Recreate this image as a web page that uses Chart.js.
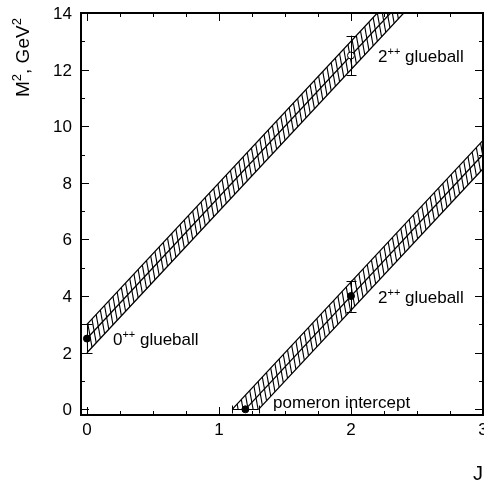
<!DOCTYPE html>
<html><head><meta charset="utf-8">
<script src="https://cdn.jsdelivr.net/npm/chart.js@4.4.0/dist/chart.umd.min.js"></script>
<style>html,body{margin:0;padding:0;background:#fff;overflow:hidden;}#c{display:block;width:484px;height:485px;}</style>
</head><body><canvas id="c" width="484" height="485"></canvas>
<script>
// ---- data ----
const xTickValues = [0, 0.25, 0.5, 0.75, 1, 1.25, 1.5, 1.75, 2, 2.25, 2.5, 2.75, 3];
const xMajorTicks = [0, 1, 2, 3];
const yTickValues = [0, 0.5, 1, 1.5, 2, 2.5, 3, 3.5, 4, 4.5, 5, 5.5, 6, 6.5, 7, 7.5, 8, 8.5, 9, 9.5, 10, 10.5, 11, 11.5, 12, 12.5, 13, 13.5, 14];
const yMajorTicks = [0, 2, 4, 6, 8, 10, 12, 14];

// glueball trajectory band (polygon) and central line
const glueballBandJ  = [0.0, 2.6, 2.4, 0.0];
const glueballBandM2 = [2.0, 15.0, 15.0, 3.0];
const glueballLineJ  = [0.0, 2.5];
const glueballLineM2 = [2.5, 15.0];

// pomeron trajectory band (polygon) and central line
const pomeronBandJ  = [1.1, 3.1, 3.1, 1.3];
const pomeronBandM2 = [0.0, 10.0, 9.0, 0.0];
const pomeronLineJ  = [1.2, 3.1];
const pomeronLineM2 = [0.0, 9.5];

// measured points with error bars
const pointJ     = [0.0, 2.0, 2.0, 1.2];
const pointM2    = [2.5, 4.0, 12.5, 0.0];
const pointM2Lo  = [2.0, 3.45, 11.8, null];
const pointM2Hi  = [3.0, 4.55, 13.2, null];
const pointJLo   = [null, null, null, 1.1];
const pointJHi   = [null, null, null, 1.3];
const pointFilled = [true, true, false, true];

// text labels
const labelTexts = ['0', '2', '2', 'pomeron intercept'];
const labelJ  = [0.197, 2.205, 2.205, 1.41];
const labelM2 = [2.26, 3.76, 12.27, 0.03];

// ---- helpers ----
const FONT = '"Liberation Sans", Arial, Helvetica, sans-serif';
const zip = (xs, ys) => xs.map((x, i) => ({x, y: ys[i]}));

function hatchPattern() {
  const W = 5, H = 28;
  const c = document.createElement('canvas');
  c.width = W; c.height = H;
  const g = c.getContext('2d');
  g.fillStyle = '#fff'; g.fillRect(0, 0, W, H);
  g.strokeStyle = '#000'; g.lineWidth = 1.1;
  for (const o of [-W, 0, W]) {
    g.beginPath(); g.moveTo(o, 0); g.lineTo(o + W, H); g.stroke();
  }
  return g.createPattern(c, 'repeat');
}
const hatch = hatchPattern();

function drawRich(ctx, x, y, parts) {
  let cx = x;
  for (const [t, size, dy] of parts) {
    ctx.font = size + 'px ' + FONT;
    ctx.fillText(t, cx, y - dy);
    cx += ctx.measureText(t).width;
  }
}

const decorPlugin = {
  id: 'decor',
  afterDatasetsDraw(chart) {
    const ctx = chart.ctx, xs = chart.scales.x, ys = chart.scales.y;
    ctx.save();
    ctx.strokeStyle = '#000'; ctx.lineWidth = 1;
    pointJ.forEach((j, i) => {
      const px = xs.getPixelForValue(j), py = ys.getPixelForValue(pointM2[i]);
      if (pointM2Lo[i] !== null) {
        const y1 = ys.getPixelForValue(pointM2Lo[i]), y2 = ys.getPixelForValue(pointM2Hi[i]);
        const cx = Math.round(px) + 0.5;
        ctx.beginPath();
        ctx.moveTo(cx, y1); ctx.lineTo(cx, y2);
        ctx.moveTo(cx - 5, Math.round(y1) + 0.5); ctx.lineTo(cx + 5, Math.round(y1) + 0.5);
        ctx.moveTo(cx - 5, Math.round(y2) + 0.5); ctx.lineTo(cx + 5, Math.round(y2) + 0.5);
        ctx.stroke();
      }
      if (pointJLo[i] !== null) {
        const x1 = xs.getPixelForValue(pointJLo[i]), x2 = xs.getPixelForValue(pointJHi[i]);
        const cy = Math.round(py) + 0.5;
        ctx.beginPath();
        ctx.moveTo(x1, cy); ctx.lineTo(x2, cy);
        ctx.moveTo(Math.round(x1) + 0.5, cy - 4); ctx.lineTo(Math.round(x1) + 0.5, cy + 4);
        ctx.moveTo(Math.round(x2) + 0.5, cy - 4); ctx.lineTo(Math.round(x2) + 0.5, cy + 4);
        ctx.stroke();
      }
    });
    ctx.restore();
  },
  afterDraw(chart) {
    const ctx = chart.ctx, a = chart.chartArea, xs = chart.scales.x, ys = chart.scales.y;
    ctx.save();
    ctx.strokeStyle = '#000'; ctx.fillStyle = '#000';
    ctx.lineWidth = 2;
    ctx.strokeRect(a.left, a.top, a.right - a.left, a.bottom - a.top);
    ctx.lineWidth = 1;
    ctx.beginPath();
    xs.ticks.forEach(t => {
      const L = xMajorTicks.includes(t.value) ? 8 : 4;
      const p = Math.round(xs.getPixelForValue(t.value)) + 0.5;
      ctx.moveTo(p, a.bottom); ctx.lineTo(p, a.bottom - L);
      ctx.moveTo(p, a.top); ctx.lineTo(p, a.top + L);
    });
    ys.ticks.forEach(t => {
      const L = yMajorTicks.includes(t.value) ? 8 : 4;
      const p = Math.round(ys.getPixelForValue(t.value)) + 0.5;
      ctx.moveTo(a.left, p); ctx.lineTo(a.left + L, p);
      ctx.moveTo(a.right, p); ctx.lineTo(a.right - L, p);
    });
    ctx.stroke();
    ctx.font = '17px ' + FONT;
    ctx.textAlign = 'center'; ctx.textBaseline = 'alphabetic';
    xs.ticks.forEach(t => {
      if (xMajorTicks.includes(t.value)) ctx.fillText(String(t.value), xs.getPixelForValue(t.value), a.bottom + 20);
    });
    ctx.textAlign = 'right';
    ys.ticks.forEach(t => {
      if (yMajorTicks.includes(t.value)) ctx.fillText(String(t.value), a.left - 9, ys.getPixelForValue(t.value) + 6);
    });
    ctx.textAlign = 'left';
    labelTexts.forEach((t, i) => {
      const px = xs.getPixelForValue(labelJ[i]), py = ys.getPixelForValue(labelM2[i]);
      const parts = t.length === 1 ? [[t, 17, 0], ['++', 11, 7], [' glueball', 17, 0]] : [[t, 17, 0]];
      drawRich(ctx, px, py, parts);
    });
    ctx.save();
    ctx.translate(29, 97);
    ctx.rotate(-Math.PI / 2);
    drawRich(ctx, 0, 0, [['M', 19, 0], ['2', 13, 8], [', GeV', 19, 0], ['2', 13, 8]]);
    ctx.restore();
    ctx.font = '20px ' + FONT;
    ctx.textAlign = 'right';
    ctx.fillText('J', 483, 480);
    ctx.restore();
  }
};

new Chart(document.getElementById('c'), {
  type: 'scatter',
  data: {
    datasets: [
      { order: 0, data: zip(pointJ, pointM2), showLine: false, pointRadius: 3.5, pointHoverRadius: 3.5, borderWidth: 1,
        pointBackgroundColor: pointFilled.map(f => f ? '#000' : '#fff'), pointBorderColor: '#000' },
      { order: 1, data: zip(glueballLineJ, glueballLineM2), showLine: true, borderColor: '#000', borderWidth: 1.3, pointRadius: 0, fill: false },
      { order: 1, data: zip(pomeronLineJ, pomeronLineM2), showLine: true, borderColor: '#000', borderWidth: 1.3, pointRadius: 0, fill: false },
      { order: 2, data: zip(glueballBandJ, glueballBandM2), showLine: true, fill: 'shape', backgroundColor: hatch,
        borderColor: '#000', borderWidth: 1.3, pointRadius: 0, tension: 0 },
      { order: 2, data: zip(pomeronBandJ, pomeronBandM2), showLine: true, fill: 'shape', backgroundColor: hatch,
        borderColor: '#000', borderWidth: 1.3, pointRadius: 0, tension: 0 }
    ]
  },
  options: {
    responsive: false,
    animation: false,
    devicePixelRatio: 1,
    events: [],
    layout: { autoPadding: false, padding: { left: 81, right: 1, top: 13, bottom: 70 } },
    plugins: { legend: { display: false }, tooltip: { enabled: false } },
    scales: {
      x: {
        type: 'linear', display: false, min: -0.045, max: 3.0,
        afterBuildTicks: ax => { ax.ticks = xTickValues.map(v => ({value: v})); }
      },
      y: {
        type: 'linear', display: false, min: -0.2, max: 14,
        afterBuildTicks: ax => { ax.ticks = yTickValues.map(v => ({value: v})); }
      }
    }
  },
  plugins: [decorPlugin]
});
</script>
</body></html>
